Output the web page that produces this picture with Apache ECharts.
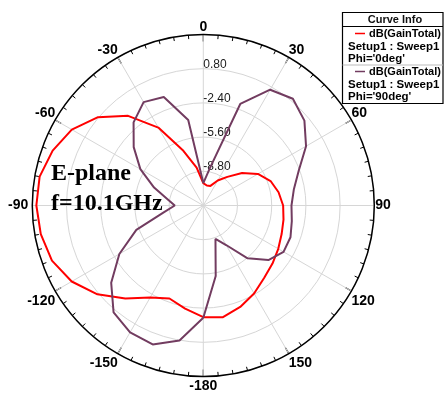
<!DOCTYPE html>
<html><head><meta charset="utf-8">
<script src="https://cdn.jsdelivr.net/npm/echarts@6/dist/echarts.min.js"></script>
<style>html,body{margin:0;padding:0;background:#fff}#c{width:444px;height:394px}</style>
</head><body><div id="c"></div>
<script>
// Theta angles (deg)
const angles = [-180,-170,-160,-150,-140,-130,-120,-110,-100,-90,-80,-70,-60,-50,-40,-30,-20,-10,0,
  10,20,30,40,50,60,70,80,90,100,110,120,130,140,150,160,170,180];
// dB(GainTotal), Phi = 0deg
const gainPhi0 = [-1.55,-2.2,-2.74,-2.07,-0.65,0.93,2.22,3.07,3.44,3.62,3.55,3.0,2.21,0.86,-1.05,-3.58,-6.55,-8.4,-9.9,
  -10.1,-10.05,-9.3,-8.5,-7.27,-6.1,-5.3,-4.85,-4.53,-4.38,-4.2,-3.9,-3.55,-3.15,-2.5,-1.9,-1.39,-1.55];
// dB(GainTotal), Phi = 90deg
const gainPhi90 = [-1.49,0.83,1.84,1.70,1.06,-0.75,-2.93,-5.33,-8.2,-9.33,-8.6,-7.1,-5.2,-3.5,-1.85,-0.83,-1.19,-3.88,-9.9,
  -8.45,-1.89,0.51,1.04,0.35,-0.9,-2.5,-3.4,-3.75,-3.59,-3.32,-3.33,-4.05,-5.55,-7.73,-8.67,-5.31,-1.49];
// radial scale
const rMin = -12, rMax = 4, rStep = 3.2;
// angle tick labels (axis runs 0..360 clockwise from top)
const angleTickLabels = {0:'0',30:'30',60:'60',90:'90',120:'120',150:'150',180:'-180',210:'-150',240:'-120',270:'-90',300:'-60',330:'-30',360:''};
const seriesNames = ["dB(GainTotal) Phi='0deg'", "dB(GainTotal) Phi='90deg'"];

const toPolar = (vals) => angles.map((a, i) => [vals[i], a < 0 ? a + 360 : a]);

const lblFont = {color: '#000', fontWeight: 'bold', fontSize: 14, fontFamily: '"Liberation Sans", Arial'};
const chart = echarts.init(document.getElementById('c'), null, {renderer: 'canvas'});
const txt = (x, y, text, opts) => ({type: 'text', x, y, z: 11, style: Object.assign({text, fill: '#000', font: 'bold 11px "Liberation Sans", Arial', textVerticalAlign: 'middle'}, opts || {})});
const entryFont = 'bold 11.5px "Liberation Sans", Arial';
const headFont = 'bold 11px "Liberation Sans", Arial';
chart.setOption({
  backgroundColor: '#fff',
  animation: false,
  polar: {center: [203.3, 205.5], radius: 171},
  angleAxis: {
    type: 'value', min: 0, max: 360, interval: 30, startAngle: 90, clockwise: true,
    axisLine: {show: true, lineStyle: {color: '#000', width: 1.5}},
    axisTick: {show: true, inside: true, length: 7, lineStyle: {color: '#000', width: 1.2}},
    minorTick: {show: true, splitNumber: 6, length: 4, lineStyle: {color: '#000', width: 1}},
    axisLabel: Object.assign({margin: 0,
      formatter: v => {
        const a = Math.round(v), s = angleTickLabels[a];
        if (s === undefined || s === '') return '';
        if (a > 90 && a < 270) return '{b|' + s + '}';
        if (a === 270) return '{l|' + s + '}';
        if (a === 90) return '{r|' + s + '}';
        return '{t|' + s + '}';
      },
      rich: {
        t: Object.assign({}, lblFont),
        b: Object.assign({padding: [3, 0, 0, 0]}, lblFont),
        l: Object.assign({padding: [0, 4, 0, 0]}, lblFont),
        r: Object.assign({padding: [0, 0, 0, 1]}, lblFont)
      }}, lblFont),
    splitLine: {show: true, lineStyle: {color: '#d6d6d6', width: 1}}
  },
  radiusAxis: {
    type: 'value', min: rMin, max: rMax, interval: rStep,
    axisLine: {show: false}, axisTick: {show: false},
    axisLabel: {showMinLabel: false, showMaxLabel: false, color: '#1a1a1a', fontSize: 12, fontFamily: '"Liberation Sans", Arial',
      align: 'left', verticalAlign: 'bottom', lineHeight: 9, margin: 0, formatter: v => v.toFixed(2)},
    splitLine: {show: true, lineStyle: {color: '#d6d6d6', width: 1}}
  },
  series: [
    {name: seriesNames[0], type: 'line', coordinateSystem: 'polar', data: toPolar(gainPhi0), showSymbol: false,
      lineStyle: {color: '#ff0000', width: 2}, z: 3},
    {name: seriesNames[1], type: 'line', coordinateSystem: 'polar', data: toPolar(gainPhi90), showSymbol: false,
      lineStyle: {color: '#723c60', width: 2}, z: 4}
  ],
  graphic: [
    txt(51, 173.5, 'E-plane', {font: 'bold 24px "Liberation Serif", "Times New Roman", serif'}),
    txt(51, 204, 'f=10.1GHz', {font: 'bold 24px "Liberation Serif", "Times New Roman", serif'}),
    {type: 'rect', shape: {x: 342.5, y: 12.5, width: 100.5, height: 91}, style: {fill: '#fff', stroke: '#000', lineWidth: 1.2}, z: 10},
    {type: 'line', shape: {x1: 342.5, y1: 26.5, x2: 443, y2: 26.5}, style: {stroke: '#000', lineWidth: 1}, z: 11},
    {type: 'line', shape: {x1: 342.5, y1: 65, x2: 443, y2: 65}, style: {stroke: '#bbb', lineWidth: 1}, z: 11},
    txt(395, 19.5, 'Curve Info', {textAlign: 'center', fill: '#111'}),
    {type: 'line', shape: {x1: 355, y1: 33.5, x2: 365, y2: 33.5}, style: {stroke: '#ff0000', lineWidth: 1.5}, z: 11},
    txt(369, 34, 'dB(GainTotal)', {font: headFont}),
    txt(348, 46.5, 'Setup1 : Sweep1', {font: entryFont}),
    txt(348, 59, "Phi='0deg'", {font: entryFont}),
    {type: 'line', shape: {x1: 355, y1: 71.5, x2: 365, y2: 71.5}, style: {stroke: '#723c60', lineWidth: 1.5}, z: 11},
    txt(369, 72, 'dB(GainTotal)', {font: headFont}),
    txt(348, 84.5, 'Setup1 : Sweep1', {font: entryFont}),
    txt(348, 97, "Phi='90deg'", {font: entryFont})
  ]
});
</script></body></html>
